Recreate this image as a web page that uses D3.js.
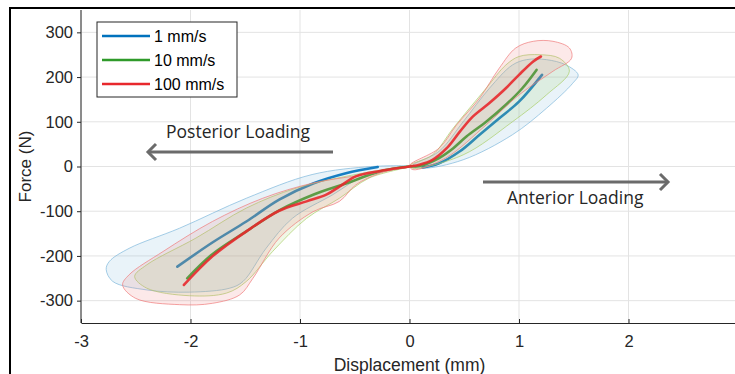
<!DOCTYPE html>
<html>
<head>
<meta charset="utf-8">
<script src="https://cdn.jsdelivr.net/npm/d3@7"></script>
<style>
  body { margin: 0; background: #fff; }
  svg { display: block; }
</style>
</head>
<body>
<div id="chart"></div>
<script>
const width = 735, height = 374;

// series labels and colors
const series = ['1 mm/s', '10 mm/s', '100 mm/s'];
const xTicks = [-3, -2, -1, 0, 1, 2];
const yTicks = [-300, -200, -100, 0, 100, 200, 300];

// mean curves [displacement mm, force N]
const blueNeg = [[-2.12,-224],[-1.8,-170],[-1.49,-123],[-1.19,-74],[-0.88,-38],[-0.58,-15],[-0.29,-1]];
const bluePos = [[0.12,-2],[0.27,7],[0.46,34],[0.64,71],[0.82,108],[1.0,145],[1.21,205]];
const greenLine = [[-2.03,-250],[-1.8,-196],[-1.49,-145],[-1.19,-98],[-0.88,-63],[-0.58,-38],[-0.27,-11],[0,0],
  [0.09,1],[0.27,19],[0.4,41],[0.52,67],[0.7,100],[0.88,138],[1.03,175],[1.16,216]];
const redLine = [[-2.06,-265],[-1.8,-201],[-1.49,-145],[-1.19,-99],[-0.94,-78],[-0.76,-63],[-0.64,-45],[-0.49,-22],
  [-0.27,-10],[0,0],[0.09,4],[0.21,15],[0.34,41],[0.46,78],[0.58,112],[0.73,142],[0.88,175],[1.0,205],[1.13,235],[1.2,246]];

// envelope outlines (closed)
const blueBandNeg = [[0,0],[-0.34,0],[-0.89,-18],[-1.49,-71],[-2.1,-138],[-2.56,-183],[-2.74,-212],[-2.77,-230],
  [-2.71,-257],[-2.4,-276],[-2.01,-281],[-1.64,-272],[-1.52,-257],[-1.31,-183],[-1.07,-116],[-0.7,-63],[-0.4,-19]];
const blueBandPos = [[0.03,2],[0.27,34],[0.49,100],[0.73,175],[0.94,227],[1.07,239],[1.25,239],[1.43,227],[1.54,205],
  [1.49,186],[1.25,130],[0.94,71],[0.49,15],[0.12,-4]];
const greenBandNeg = [[0,0],[-0.43,-15],[-1.03,-48],[-1.49,-93],[-1.95,-160],[-2.4,-220],[-2.51,-246],[-2.4,-272],
  [-2.01,-289],[-1.67,-283],[-1.49,-257],[-1.25,-190],[-0.94,-116],[-0.64,-71],[-0.37,-26]];
const greenBandPos = [[0.03,-4],[0.49,26],[0.94,100],[1.25,160],[1.46,213],[1.37,242],[1.19,250],[1.0,246],[0.88,227],
  [0.7,175],[0.4,86],[0.21,26],[0,2]];
const redBandNeg = [[0,0],[-0.33,-15],[-0.88,-37],[-1.34,-71],[-1.8,-123],[-2.25,-190],[-2.56,-242],[-2.62,-265],
  [-2.5,-295],[-2.1,-309],[-1.8,-306],[-1.55,-287],[-1.43,-250],[-1.19,-160],[-0.88,-101],[-0.64,-78],[-0.49,-41],[-0.27,-15]];
const redBandPos = [[0.03,-7],[0.33,19],[0.7,93],[1.0,160],[1.31,213],[1.48,242],[1.46,265],[1.31,280],[1.13,280],
  [0.97,265],[0.82,220],[0.64,153],[0.43,93],[0.27,41],[0,2]];

const colors = {blue: '#0072bd', green: '#2f9a2a', red: '#e8282c'};
const bandColors = {blue: '#7fb8dc', green: '#a9cf6a', red: '#f07b7b'};

const margin = {top: 10, right: -3, bottom: 51, left: 81};

const svg = d3.select('#chart').append('svg')
  .attr('width', width).attr('height', height);

const x = d3.scaleLinear().domain([-3, 3]).range([margin.left, width - margin.right]);
const y = d3.scaleLinear().domain([-350, 350]).range([height - margin.bottom, margin.top]);

// grid
const grid = svg.append('g');
grid.selectAll('line.gx').data(xTicks.concat([3])).join('line')
  .attr('x1', d => x(d)).attr('x2', d => x(d))
  .attr('y1', y(350)).attr('y2', y(-350))
  .attr('stroke', '#e3e3e3').attr('stroke-width', 1);
grid.selectAll('line.gy').data(yTicks).join('line')
  .attr('x1', x(-3)).attr('x2', x(3))
  .attr('y1', d => y(d)).attr('y2', d => y(d))
  .attr('stroke', '#e3e3e3').attr('stroke-width', 1);

// each speed: its band, then its mean line on top (later speeds cover earlier lines)
const band = d3.line().x(d => x(d[0])).y(d => y(d[1])).curve(d3.curveCatmullRomClosed.alpha(0.5));
const line = d3.line().x(d => x(d[0])).y(d => y(d[1])).curve(d3.curveCatmullRom.alpha(0.5));
const layers = [
  {key: 'blue', bands: [blueBandNeg, blueBandPos], lines: [blueNeg, bluePos]},
  {key: 'green', bands: [greenBandNeg, greenBandPos], lines: [greenLine]},
  {key: 'red', bands: [redBandNeg, redBandPos], lines: [redLine]}
];
layers.forEach(l => {
  const g = svg.append('g');
  g.selectAll('path.band').data(l.bands).join('path')
    .attr('class', 'band')
    .attr('d', band)
    .attr('fill', bandColors[l.key])
    .attr('fill-opacity', 0.17)
    .attr('stroke', bandColors[l.key])
    .attr('stroke-opacity', 0.7)
    .attr('stroke-width', 1);
  g.selectAll('path.mean').data(l.lines).join('path')
    .attr('class', 'mean')
    .attr('d', line)
    .attr('fill', 'none')
    .attr('stroke', colors[l.key])
    .attr('stroke-opacity', 0.9)
    .attr('stroke-width', 2.6)
    .attr('stroke-linecap', 'round');
});

// axes
const axisFont = '"Liberation Sans", Arial, sans-serif';
const fmt = d => String(d);
const yAxis = svg.append('g')
  .attr('transform', `translate(${margin.left},0)`)
  .call(d3.axisLeft(y).tickValues(yTicks).tickFormat(fmt).tickSize(4).tickPadding(4).tickSizeOuter(0));
const xAxis = svg.append('g')
  .attr('transform', `translate(0,${y(-350)})`)
  .call(d3.axisBottom(x).tickValues(xTicks).tickFormat(fmt).tickSize(-4).tickPadding(12).tickSizeOuter(0));
[xAxis, yAxis].forEach(g => {
  g.select('.domain').attr('stroke', '#262626');
  g.selectAll('.tick line').attr('stroke', '#262626');
  g.selectAll('.tick text').attr('fill', '#262626')
    .style('font-family', axisFont).style('font-size', '16.5px');
});
yAxis.select('.domain').attr('d', `M0,${y(-350)}V${y(350)}`);

svg.append('text')
  .attr('x', x(0)).attr('y', 371)
  .attr('text-anchor', 'middle')
  .attr('fill', '#262626')
  .style('font-family', axisFont).style('font-size', '17.5px')
  .text('Displacement (mm)');
svg.append('text')
  .attr('transform', `translate(31,${y(0)}) rotate(-90)`)
  .attr('text-anchor', 'middle')
  .attr('fill', '#262626')
  .style('font-family', axisFont).style('font-size', '17px')
  .text('Force (N)');

// annotations
const noteFont = '"Open Sans", "Noto Sans", sans-serif';
function arrow(x1, x2, yy) {
  const dir = Math.sign(x2 - x1);
  const g = svg.append('g').attr('stroke', '#6b6b6b').attr('stroke-width', 3).attr('fill', 'none');
  g.append('line').attr('x1', x1).attr('x2', x2).attr('y1', yy).attr('y2', yy);
  g.append('path').attr('d', `M${x2 - dir * 8},${yy - 8}L${x2},${yy}L${x2 - dir * 8},${yy + 8}`);
}
arrow(333, 148, 152);
arrow(483, 668, 182);
svg.append('text').attr('x', 166).attr('y', 138)
  .attr('fill', '#262626').style('font-family', noteFont).style('font-size', '17.5px')
  .text('Posterior Loading');
svg.append('text').attr('x', 507).attr('y', 204)
  .attr('fill', '#262626').style('font-family', noteFont).style('font-size', '17.5px')
  .text('Anterior Loading');

// legend
const legend = svg.append('g').attr('transform', 'translate(97,22)');
legend.append('rect').attr('width', 140).attr('height', 75)
  .attr('fill', '#fff').attr('stroke', '#262626').attr('stroke-width', 1);
const legColors = [colors.blue, colors.green, colors.red];
series.forEach((s, i) => {
  const yy = 14 + i * 24;
  legend.append('line').attr('x1', 5).attr('x2', 53).attr('y1', yy).attr('y2', yy)
    .attr('stroke', legColors[i]).attr('stroke-width', 2.6);
  legend.append('text').attr('x', 57).attr('y', yy + 6)
    .attr('fill', '#000').style('font-family', axisFont).style('font-size', '16px')
    .text(s);
});

// outer frame
svg.append('rect').attr('x', 10).attr('y', 8).attr('width', 760).attr('height', 400)
  .attr('fill', 'none').attr('stroke', '#000').attr('stroke-width', 2);
</script>
</body>
</html>
